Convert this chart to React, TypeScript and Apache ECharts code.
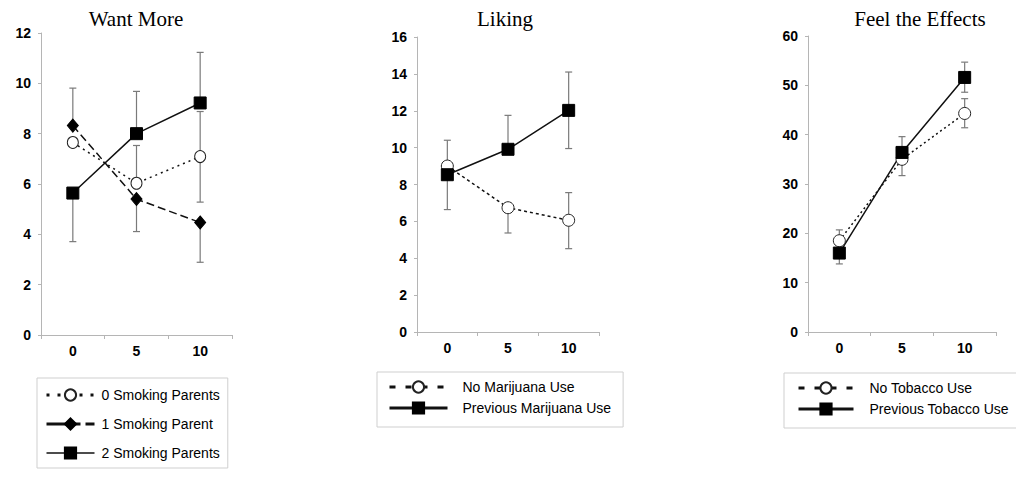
import React, { useEffect, useRef } from 'react';
import * as echarts from 'echarts';

const categories = ['0', '5', '10'];

// Want More
const wmNone = [7.65, 6.03, 7.09];
const wmNoneLow = [7.65, 6.03, 5.28];
const wmNoneHigh = [7.65, 7.53, 8.88];
const wmOne = [8.32, 5.4, 4.47];
const wmOneLow = [8.32, 4.11, 2.89];
const wmOneHigh = [9.81, 5.4, 4.47];
const wmTwo = [5.64, 8.0, 9.22];
const wmTwoLow = [3.71, 8.0, 9.22];
const wmTwoHigh = [5.64, 9.68, 11.23];

// Liking
const likNo = [9.0, 6.74, 6.06];
const likNoLow = [9.0, 5.37, 4.52];
const likNoHigh = [10.4, 6.74, 7.56];
const likPrev = [8.53, 9.91, 12.02];
const likPrevLow = [6.64, 9.91, 9.95];
const likPrevHigh = [8.53, 11.75, 14.1];

// Feel the Effects
const feNo = [18.5, 35.0, 44.3];
const feNoLow = [18.5, 31.7, 41.4];
const feNoHigh = [20.7, 35.0, 47.3];
const fePrev = [16.0, 36.4, 51.6];
const fePrevLow = [13.8, 36.4, 48.6];
const fePrevHigh = [16.0, 39.6, 54.7];

const titles = ['Want More', 'Liking', 'Feel the Effects'];
const legend1 = ['0 Smoking Parents', '1 Smoking Parent', '2 Smoking Parents'];
const legend2 = ['No Marijuana Use', 'Previous Marijuana Use'];
const legend3 = ['No Tobacco Use', 'Previous Tobacco Use'];

const labelFont = { fontFamily: 'Liberation Sans', fontSize: 14, fontWeight: 'bold' as const, color: '#000' };

function makeX(gridIndex: number) {
  return {
    type: 'category',
    gridIndex,
    data: categories,
    boundaryGap: true,
    axisLine: { show: true, lineStyle: { color: '#b5b5b5', width: 1 } },
    axisTick: { show: true, length: 4, alignWithLabel: false, lineStyle: { color: '#b5b5b5' } },
    axisLabel: { ...labelFont, margin: 9 },
    splitLine: { show: false },
  };
}

function makeY(gridIndex: number, max: number, interval: number) {
  return {
    type: 'value',
    gridIndex,
    min: 0,
    max,
    interval,
    axisLine: { show: true, lineStyle: { color: '#b5b5b5', width: 1 } },
    axisTick: { show: true, length: 3, lineStyle: { color: '#b5b5b5' } },
    axisLabel: { ...labelFont, margin: 10 },
    splitLine: { show: false },
  };
}

function lineSeries(name: string, data: number[], idx: number, symbol: string, size: any, dash: any, open: boolean) {
  return {
    type: 'line',
    name,
    xAxisIndex: idx,
    yAxisIndex: idx,
    data,
    symbol,
    symbolSize: size,
    z: 3,
    lineStyle: { color: '#111', width: 1.5, type: dash },
    itemStyle: open
      ? { color: '#fff', borderColor: '#222', borderWidth: 1 }
      : { color: '#000', borderColor: '#000', borderWidth: 1 },
  };
}

function errSeries(name: string, low: number[], high: number[], idx: number) {
  return {
    type: 'custom',
    name,
    xAxisIndex: idx,
    yAxisIndex: idx,
    z: 1,
    data: categories.map((_, i) => [i, low[i], high[i]]),
    encode: { x: 0, y: [1, 2] },
    renderItem: (_params: any, api: any) => {
      const x = api.value(0);
      const lo = api.coord([x, api.value(1)]);
      const hi = api.coord([x, api.value(2)]);
      const w = 3.5;
      const st = { stroke: '#7a7a7a', lineWidth: 1.2 };
      return {
        type: 'group',
        children: [
          { type: 'line', shape: { x1: lo[0], y1: lo[1], x2: hi[0], y2: hi[1] }, style: st },
          { type: 'line', shape: { x1: lo[0] - w, y1: lo[1], x2: lo[0] + w, y2: lo[1] }, style: st },
          { type: 'line', shape: { x1: hi[0] - w, y1: hi[1], x2: hi[0] + w, y2: hi[1] }, style: st },
        ],
      };
    },
  };
}

const legendText = { fontFamily: 'Liberation Sans', fontSize: 14, color: '#000' };

const option: any = {
  animation: false,
  backgroundColor: '#fff',
  grid: [
    { left: 41, top: 33, width: 191, height: 302 },
    { left: 417, top: 37, width: 182, height: 295 },
    { left: 808, top: 36, width: 188, height: 296 },
  ],
  xAxis: [makeX(0), makeX(1), makeX(2)],
  yAxis: [makeY(0, 12, 2), makeY(1, 16, 2), makeY(2, 60, 10)],
  legend: [
    {
      data: [
        { name: legend1[0], lineStyle: { type: [3, 8], width: 3 } },
        { name: legend1[1], lineStyle: { type: [34, 5], width: 3 } },
        { name: legend1[2], lineStyle: { width: 1.5 } },
      ],
      orient: 'vertical',
      left: 37,
      top: 378,
      padding: [10, 8, 8, 8],
      itemGap: 15,
      itemWidth: 48,
      itemHeight: 14,
      borderColor: '#cfcfcf',
      borderWidth: 1,
      textStyle: { ...legendText, padding: [0, 0, 0, 2] },
      lineStyle: { width: 3 },
      selectedMode: false,
    },
    {
      data: [
        { name: legend2[0], lineStyle: { type: [6, 10], width: 3 } },
        { name: legend2[1] },
      ],
      orient: 'vertical',
      left: 377,
      top: 372,
      padding: [8, 12, 12, 11],
      itemGap: 7,
      itemWidth: 58,
      itemHeight: 14,
      borderColor: '#cfcfcf',
      borderWidth: 1,
      textStyle: { ...legendText, padding: [0, 0, 0, 10] },
      lineStyle: { width: 3 },
      selectedMode: false,
    },
    {
      data: [
        { name: legend3[0], lineStyle: { type: [6, 10], width: 3 } },
        { name: legend3[1] },
      ],
      orient: 'vertical',
      left: 784,
      top: 373,
      padding: [8, 12, 12, 13],
      itemGap: 7,
      itemWidth: 55,
      itemHeight: 14,
      borderColor: '#cfcfcf',
      borderWidth: 1,
      textStyle: { ...legendText, padding: [0, 0, 0, 11] },
      lineStyle: { width: 3 },
      selectedMode: false,
    },
  ],
  graphic: [
    { type: 'text', x: 136, y: 19, style: { text: titles[0], fontFamily: 'Liberation Serif', fontSize: 21, fill: '#000', align: 'center', verticalAlign: 'middle' } },
    { type: 'text', x: 505, y: 19, style: { text: titles[1], fontFamily: 'Liberation Serif', fontSize: 21, fill: '#000', align: 'center', verticalAlign: 'middle' } },
    { type: 'text', x: 920, y: 19, style: { text: titles[2], fontFamily: 'Liberation Serif', fontSize: 21, fill: '#000', align: 'center', verticalAlign: 'middle' } },
  ],
  series: [
    errSeries('e-wm0', wmNoneLow, wmNoneHigh, 0),
    errSeries('e-wm1', wmOneLow, wmOneHigh, 0),
    errSeries('e-wm2', wmTwoLow, wmTwoHigh, 0),
    lineSeries(legend1[0], wmNone, 0, 'circle', [11, 12], [2, 4], true),
    lineSeries(legend1[1], wmOne, 0, 'diamond', [11, 13], [8, 4], false),
    lineSeries(legend1[2], wmTwo, 0, 'rect', 12, 'solid', false),

    errSeries('e-lik0', likNoLow, likNoHigh, 1),
    errSeries('e-lik1', likPrevLow, likPrevHigh, 1),
    lineSeries(legend2[0], likNo, 1, 'circle', 12, [3, 3], true),
    lineSeries(legend2[1], likPrev, 1, 'rect', 12, 'solid', false),

    errSeries('e-fe0', feNoLow, feNoHigh, 2),
    errSeries('e-fe1', fePrevLow, fePrevHigh, 2),
    lineSeries(legend3[0], feNo, 2, 'circle', 12, [2, 3], true),
    lineSeries(legend3[1], fePrev, 2, 'rect', 12, 'solid', false),
  ],
};

export default function App() {
  const ref = useRef<HTMLDivElement>(null);
  useEffect(() => {
    const chart = echarts.init(ref.current!, null, { renderer: 'svg' });
    chart.setOption(option);
    return () => chart.dispose();
  }, []);
  return <div ref={ref} style={{ position: 'fixed', left: 0, top: 0, width: 1016, height: 478 }} />;
}
